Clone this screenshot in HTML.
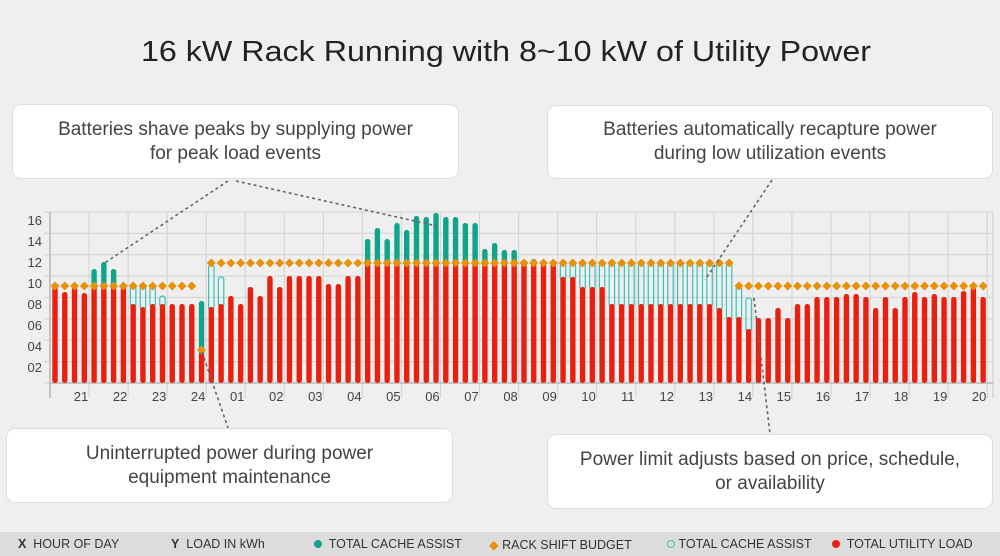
<!DOCTYPE html>
<html><head><meta charset="utf-8"><style>
html,body{margin:0;padding:0;background:#efefef;}
body{width:1000px;height:556px;overflow:hidden;position:relative;font-family:"Liberation Sans",sans-serif;}
.box{position:absolute;background:#fff;border:1px solid #dedede;border-radius:9px;box-sizing:border-box;text-align:center;color:#444;font-size:19px;line-height:24px;display:flex;align-items:center;justify-content:center;}
.leg{position:absolute;left:0;top:532px;width:1000px;height:24px;background:#dcdcdc;font-size:12.5px;color:#333;}
.leg span{position:absolute;top:5px;white-space:nowrap;}
</style></head><body>
<svg id="s" width="1000" height="556" style="position:absolute;left:0;top:0">
<text x="506" y="61" text-anchor="middle" font-size="29" fill="#222" textLength="730" lengthAdjust="spacingAndGlyphs" font-family="Liberation Sans, sans-serif">16 kW Rack Running with 8~10 kW of Utility Power</text>
<g id="g"></g>
</svg>
<div class="box" style="left:12px;top:104px;width:447px;height:75px;">Batteries shave peaks by supplying power<br>for peak load events</div>
<div class="box" style="left:547px;top:105px;width:446px;height:74px;">Batteries automatically recapture power<br>during low utilization events</div>
<div class="box" style="left:6px;top:428px;width:447px;height:75px;">Uninterrupted power during power<br>equipment maintenance</div>
<div class="box" style="left:547px;top:434px;width:446px;height:75px;">Power limit adjusts based on price, schedule,<br>or availability</div>
<div class="leg">
<span style="left:18px"><b>X</b>&nbsp; HOUR OF DAY</span>
<span style="left:171px"><b>Y</b>&nbsp; LOAD IN kWh</span>
<span style="left:314px"><span style="position:static;display:inline-block;width:8px;height:8px;border-radius:50%;background:#10a58a;"></span>&nbsp; TOTAL CACHE ASSIST</span>
<span style="left:489px"><span style="position:static;color:#e8900a">◆</span>&nbsp;RACK SHIFT BUDGET</span>
<span style="left:667px"><span style="position:static;display:inline-block;width:6px;height:6px;border-radius:50%;border:1.5px solid #3cc0b8;"></span>&nbsp;TOTAL CACHE ASSIST</span>
<span style="left:832px"><span style="position:static;display:inline-block;width:8px;height:8px;border-radius:50%;background:#e8200f;"></span>&nbsp; TOTAL UTILITY LOAD</span>
</div>
<script>
var NS="http://www.w3.org/2000/svg",g=document.getElementById('g');
function el(t,a){var e=document.createElementNS(NS,t);for(var k in a)e.setAttribute(k,a[k]);g.appendChild(e);return e;}
var B=383;
for(var i=0;i<=8;i++){var y=212+i*(171/8);el('line',{x1:44,x2:993,y1:y,y2:y,stroke:'#d6d6d6','stroke-width':1.2});}
for(var k=0;k<=24;k++){var x=50+k*39.05;el('line',{x1:x,x2:x,y1:212,y2:398,stroke:'#d6d6d6','stroke-width':1.2});}
el('line',{x1:993,x2:993,y1:212,y2:398,stroke:'#d0d0d0','stroke-width':1.2});
el('line',{x1:50,x2:50,y1:212,y2:398,stroke:'#b8b8b8','stroke-width':1.5});
el('line',{x1:50,x2:993,y1:383,y2:383,stroke:'#b8b8b8','stroke-width':1.5});
var yl=['16','14','12','10','08','06','04','02'];
for(var i=0;i<8;i++){var t=el('text',{x:42,y:225+i*21,'text-anchor':'end','font-size':13,fill:'#444'});t.textContent=yl[i];}
var hl=['21','22','23','24','01','02','03','04','05','06','07','08','09','10','11','12','13','14','15','16','17','18','19','20'];
for(var i=0;i<24;i++){var t=el('text',{x:81+i*39.05,y:401,'text-anchor':'middle','font-size':13,fill:'#444'});t.textContent=hl[i];}
var red=[287,292,287,293,287,287,287,287,304,307,304,304,304,304,304,353,307,304,296,304,287,296,276,287,276,276,276,276,284,284,276,276];
for(var i=32;i<=51;i++)red.push(264);
red.push(277,277,287,287,287);
for(var i=57;i<=67;i++)red.push(304);
red=red.concat([308,317,317,329,318,318,308,318,304,304,297,297,297,294,294,297,308,297,308,297,292,297,294,297,297,291,287,297]);
var teal={4:269,5:262,6:269,15:301,32:239,33:228,34:239,35:223,36:230,37:216,38:217,39:213,40:217,41:217,42:223,43:223,44:249,45:243,46:250,47:250,48:261,49:259,50:261,51:261};
var out={8:286,9:286,10:286,11:296,16:265,17:277,70:287,71:298};
for(var i=52;i<=69;i++)out[i]=263;
function bx(i){return 55+i*9.77;}
for(var i=0;i<96;i++){
 var x=bx(i),w=5.4;
 if(out[i]!==undefined){el('rect',{x:x-w/2,y:out[i],width:w,height:red[i]-out[i]+3,rx:2.5,fill:'none',stroke:'#3cc0b8','stroke-width':1.2});}
 if(teal[i]!==undefined){el('rect',{x:x-w/2,y:teal[i],width:w,height:red[i]-teal[i]+3,rx:2.5,fill:'#10a58a'});}
 el('rect',{x:x-w/2,y:red[i],width:w,height:B-red[i],rx:2.5,fill:'#e8200f'});
}
for(var i=0;i<96;i++){
 var d=i<=14?286:(i==15?350:(i<=69?263:286));var x=bx(i);
 el('polygon',{points:(x)+','+(d-4.5)+' '+(x+4.5)+','+d+' '+x+','+(d+4.5)+' '+(x-4.5)+','+d,fill:'#e8900a'});
}
function dl(a,b,c,d){el('line',{x1:a,y1:b,x2:c,y2:d,stroke:'#666','stroke-width':1.6,'stroke-dasharray':'3,3'});}
dl(228,181,103,264);dl(236,181,437,226);
dl(772,180,705,280);
dl(202,352,228,428);
dl(754,298,770,434);
</script>
</body></html>
